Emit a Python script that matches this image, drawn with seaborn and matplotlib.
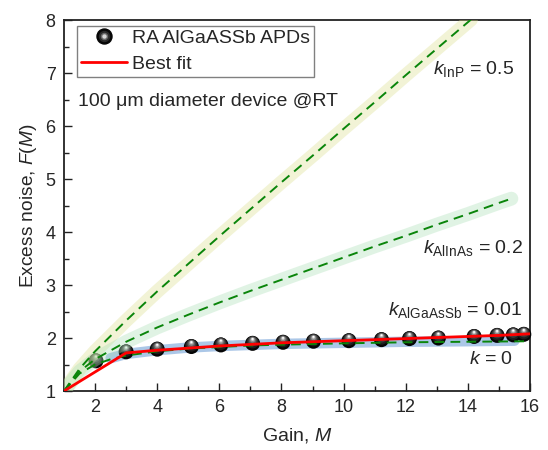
import numpy as np
import pandas as pd
import seaborn as sns
import matplotlib
matplotlib.use("Agg")
import matplotlib.pyplot as plt
from matplotlib.lines import Line2D
from matplotlib.legend_handler import HandlerTuple
from matplotlib.transforms import offset_copy

# Measured excess noise of the RA AlGaAsSb APDs
gain = [2.03, 3.0, 4.0, 5.1, 6.05, 7.07, 8.05, 9.03, 10.17, 11.22, 12.12,
        13.05, 14.2, 14.94, 15.46, 15.8]
noise = [1.57, 1.74, 1.79, 1.84, 1.87, 1.90, 1.92, 1.94, 1.95, 1.97, 1.99,
         2.00, 2.03, 2.05, 2.06, 2.07]

# Best fit
fit_gain = [1, 3, 4, 5, 6, 7, 8, 9, 10, 11, 12, 13, 14, 15, 16]
fit_noise = [1.0, 1.72, 1.77, 1.81, 1.85, 1.88, 1.91, 1.93, 1.95, 1.97,
             1.99, 2.01, 2.03, 2.05, 2.08]

# Local-model reference curves
inp_gain = [1, 1.5, 2, 3, 4, 5, 6, 7, 8, 9, 10, 11, 12, 13, 14.1]
inp_noise = [1.0, 1.42, 1.75, 2.33, 2.88, 3.40, 3.92, 4.43, 4.94, 5.44,
             5.95, 6.45, 6.96, 7.46, 8.01]
alinas_gain = [1, 1.5, 2, 3, 4, 5, 6, 7, 8, 9, 10, 11, 12, 13, 14, 15, 15.4]
alinas_noise = [1.0, 1.37, 1.60, 1.93, 2.20, 2.44, 2.67, 2.89, 3.10, 3.31,
                3.52, 3.73, 3.93, 4.14, 4.34, 4.55, 4.63]
k0_gain = [1, 1.5, 2, 2.5, 3, 4, 5, 6, 7, 8, 10, 12, 14, 16]
k0_noise = [1.0, 1.33, 1.50, 1.60, 1.67, 1.75, 1.80, 1.83, 1.86, 1.875,
            1.90, 1.92, 1.93, 1.94]
band0_gain = [2.5, 3, 4, 5, 6, 7, 8, 10, 12, 14, 15.5]
band0_noise = [1.62, 1.70, 1.77, 1.82, 1.85, 1.87, 1.89, 1.91, 1.93, 1.94, 1.95]

labels_k = ["$k_{\\mathrm{InP}}$ = 0.5", "$k_{\\mathrm{AlInAs}}$ = 0.2",
            "$k_{\\mathrm{AlGaAsSb}}$ = 0.01", "$k$ = 0"]

sns.set_style("ticks")
plt.rcParams["font.family"] = ["Liberation Sans", "DejaVu Sans"]
plt.rcParams["mathtext.fontset"] = "custom"
plt.rcParams["mathtext.rm"] = "Liberation Sans"
plt.rcParams["mathtext.it"] = "Liberation Sans:italic"
plt.rcParams["xtick.direction"] = "in"
plt.rcParams["ytick.direction"] = "in"

fig = plt.figure(figsize=(5.48, 4.5), dpi=100)
ax = fig.add_axes([0.1168, 0.131, 0.8504, 0.8244])

green = "#0a850a"
dash = (0, (5, 3.2))

# translucent bands along the model curves
sns.lineplot(x=band0_gain, y=band0_noise, ax=ax, color="#9dbde3", lw=7.5,
             alpha=0.85, sort=False, estimator=None, zorder=1,
             solid_capstyle="round")
sns.lineplot(x=inp_gain, y=inp_noise, ax=ax, color="#dadf8a", lw=10,
             alpha=0.35, sort=False, estimator=None, zorder=4,
             solid_capstyle="round")
sns.lineplot(x=alinas_gain, y=alinas_noise, ax=ax, color="#a7dfb4", lw=10,
             alpha=0.35, sort=False, estimator=None, zorder=4,
             solid_capstyle="round")

# dashed model curves
for gx, gy in [(inp_gain, inp_noise), (alinas_gain, alinas_noise),
               (k0_gain, k0_noise)]:
    sns.lineplot(x=gx, y=gy, ax=ax, color=green, lw=1.4, linestyle=dash,
                 sort=False, estimator=None, zorder=5)

# best fit
sns.lineplot(x=fit_gain, y=fit_noise, ax=ax, color="#ff0000", lw=2.0,
             sort=False, estimator=None, zorder=6)

# shaded spheres for the measured points
df = pd.DataFrame({"gain": gain, "noise": noise})
layers = [(15, "#050505", 0.0), (12.5, "#1e1e1e", 1.2), (10, "#3a3a3a", 2.0),
          (7.5, "#5e5e5e", 2.8), (5.2, "#8e8e8e", 3.4), (3.2, "#c8c8c8", 4.0),
          (1.8, "#ffffff", 4.4)]
for d, c, dy in layers:
    tr = offset_copy(ax.transData, fig=fig, x=0, y=dy, units="dots")
    sns.scatterplot(data=df, x="gain", y="noise", ax=ax, s=(d * 0.72) ** 2,
                    color=c, edgecolor="none", linewidth=0, transform=tr,
                    zorder=3, clip_on=False)

ax.set_xlim(1, 16)
ax.set_ylim(1, 8)
ax.set_xticks(np.arange(2, 17, 2))
ax.set_xticks(np.arange(3, 16, 2), minor=True)
ax.set_yticks(np.arange(1, 9, 1))
ax.set_yticks(np.arange(1.5, 8, 1), minor=True)
ax.tick_params(which="major", length=6, width=1, labelsize=13, pad=6,
               color="#222222")
ax.tick_params(which="minor", length=3.5, width=1, color="#222222")
for s in ax.spines.values():
    s.set_linewidth(1.3)
    s.set_color("#222222")

ax.set_xlabel("Gain, $\\mathit{M}$", fontsize=14, labelpad=7)
ax.set_ylabel("Excess noise, $\\mathit{F(M)}$", fontsize=13.8, labelpad=5)

ax.text(1.45, 6.47, "100 \u03bcm diameter device @RT", fontsize=14,
        ha="left", va="center")
ax.text(15.5, 7.08, labels_k[0], fontsize=14, ha="right", va="center")
ax.text(15.77, 3.70, labels_k[1], fontsize=14, ha="right", va="center")
ax.text(15.77, 2.53, labels_k[2], fontsize=14, ha="right", va="center")
ax.text(15.45, 1.60, labels_k[3], fontsize=14, ha="right", va="center")

h_ball = (Line2D([], [], marker="o", ms=15 * 0.72, color="#050505", lw=0),
          Line2D([], [], marker="o", ms=10 * 0.72, color="#2a2a2a", lw=0),
          Line2D([], [], marker="o", ms=6 * 0.72, color="#6a6a6a", lw=0),
          Line2D([], [], marker="o", ms=3 * 0.72, color="#d8d8d8", lw=0))
h_fit = Line2D([], [], color="#ff0000", lw=2.0)
leg = ax.legend([h_ball, h_fit], ["RA AlGaASSb APDs", "Best fit"],
                handler_map={tuple: HandlerTuple(ndivide=1, pad=0)},
                loc="upper left", bbox_to_anchor=(0.028, 0.985),
                borderaxespad=0, fontsize=14, handlelength=2.4,
                handletextpad=0.26, borderpad=0.18, labelspacing=0.45,
                fancybox=False, framealpha=1, edgecolor="#808080")
leg.get_frame().set_linewidth(1.0)

fig.savefig("out.png", dpi=100)
